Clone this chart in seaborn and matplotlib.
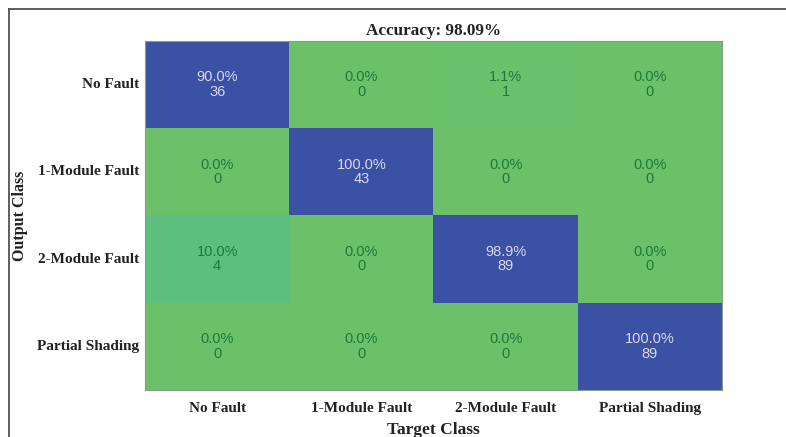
import numpy as np
import pandas as pd
import seaborn as sns
import matplotlib.pyplot as plt
from matplotlib.colors import LinearSegmentedColormap
from matplotlib.lines import Line2D

#   class names (rows = output, columns = target)
classes = ['No Fault', '1-Module Fault', '2-Module Fault', 'Partial Shading']

#   confusion counts, one list per output class
row_no_fault = [36, 0, 1, 0]
row_one_module = [0, 43, 0, 0]
row_two_module = [4, 0, 89, 0]
row_partial = [0, 0, 0, 89]

counts = np.array([row_no_fault, row_one_module, row_two_module, row_partial])
pct = counts / counts.sum(axis=0) * 100     #   percent of target class
acc = np.trace(counts) / counts.sum() * 100

df = pd.DataFrame(pct, index=classes, columns=classes)
labels = np.array([['%.1f%%\n%d' % (pct[i, j], counts[i, j]) for j in range(4)] for i in range(4)])

cmap = LinearSegmentedColormap.from_list('gb', [(0, '#6cc069'), (0.1, '#5dbf7f'), (0.4, '#4a8fa0'),
                                                (0.85, '#3a51a4'), (1, '#3a51a4')])

fig = plt.figure(figsize=(7.86, 4.37), dpi=100)
ax = fig.add_axes([0.1845, 0.1076, 0.734, 0.7986])

sns.heatmap(df, annot=labels, fmt='', cmap=cmap, vmin=0, vmax=100, cbar=False, ax=ax,
            annot_kws={'family': 'Liberation Sans', 'fontsize': 10.5, 'linespacing': 1.05})

#   text colour: light on blue, dark green on green
for t, v in zip(ax.texts, pct.flatten()):
    t.set_color('#d8d8ee' if v > 50 else '#1e7a3a')

for s in ax.spines.values():
    s.set_visible(True)
    s.set_color('#8a9a8a')
    s.set_linewidth(0.8)

lab = dict(family='Liberation Serif', fontweight='bold', color='#222222')
ax.tick_params(length=0)
ax.tick_params(axis='x', pad=9)
ax.tick_params(axis='y', pad=4)
ax.set_xticklabels(classes, rotation=0, fontsize=11, **lab)
ax.set_yticklabels(classes, rotation=0, fontsize=11, **lab)
ax.set_xlabel('Target Class', fontsize=12.5, labelpad=5, **lab)
ax.set_ylabel('Output Class', fontsize=11.5, **lab)
ax.yaxis.set_label_coords(-0.203, 0.5)
ax.set_title('Accuracy: %.2f%%' % acc, fontsize=12.3, pad=4, **lab)

#   frame lines of the original figure (left + top)
fig.add_artist(Line2D([9/786, 9/786], [0, 1 - 9/437], color='#444444', lw=1.2))
fig.add_artist(Line2D([9/786, 1], [1 - 9/437, 1 - 9/437], color='#444444', lw=1.2))

fig.savefig('out.png', dpi=100)
